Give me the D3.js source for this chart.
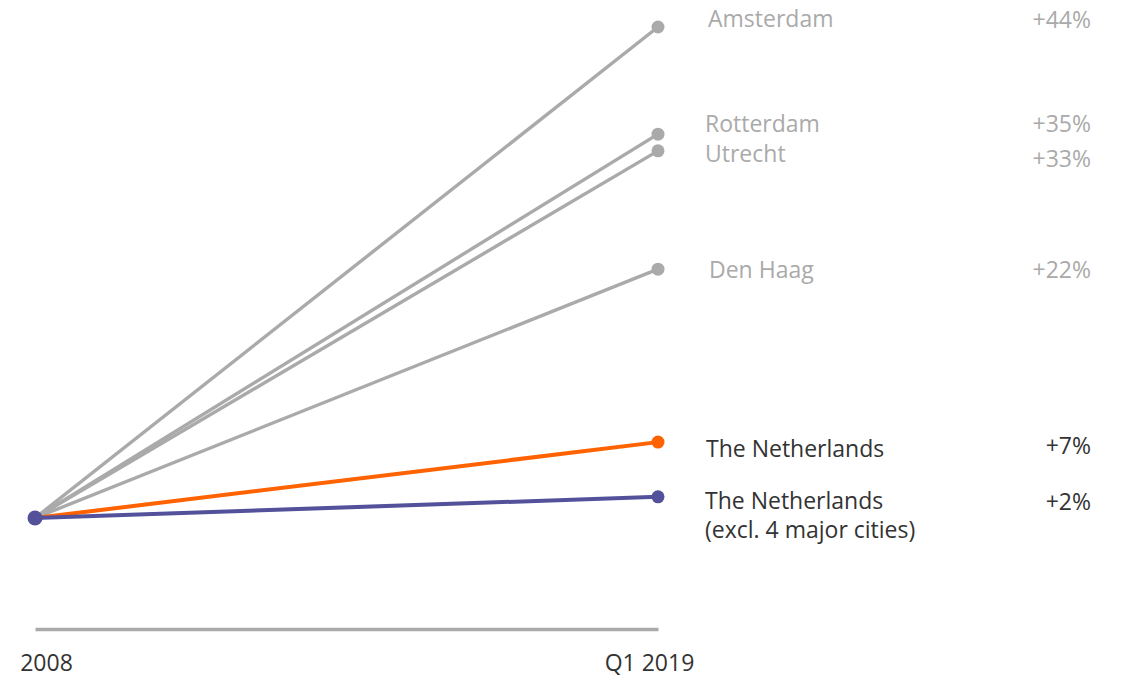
<!DOCTYPE html>
<html><head><meta charset="utf-8">
<script src="https://cdn.jsdelivr.net/npm/d3@7"></script>
<style>body{margin:0;background:#fff}svg{display:block}text{font-family:"Open Sans",sans-serif}</style>
</head><body><svg id="c" width="1122" height="677"></svg>
<script>
const periods = ["2008", "Q1 2019"];
const series = ["Amsterdam", "Rotterdam", "Utrecht", "Den Haag", "The Netherlands", "The Netherlands\n(excl. 4 major cities)"];
const startValues = [0, 0, 0, 0, 0, 0];
const endValues = [44, 34.4, 32.9, 22.3, 6.8, 1.9];
const changeLabels = ["+44%", "+35%", "+33%", "+22%", "+7%", "+2%"];

const colors = ["#aaaaaa", "#aaaaaa", "#aaaaaa", "#aaaaaa", "#ff6200", "#525199"];
const textColors = ["#aaaaaa", "#aaaaaa", "#aaaaaa", "#aaaaaa", "#333333", "#333333"];
const nameDy = [0, -2, 11, 9, 15, 12];
const nameDx = [50, 47, 47, 51, 48, 47];
const pctDy = [1, -2, 16, 9, 12, 13];

const svg = d3.select("#c");
const x = d3.scalePoint().domain(periods).range([35, 658]);
const y = d3.scaleLinear().domain([0, 44]).range([518, 27]);

// axis baseline
const ax = svg.append("g").attr("transform", "translate(0,629)").call(d3.axisBottom(x).tickSize(0).tickPadding(26));
ax.select(".domain").attr("stroke", "#aaaaaa").attr("stroke-width", 3.5);
ax.selectAll(".tick text").attr("font-size", 23).attr("fill", "#333").attr("font-family", "Open Sans, sans-serif")
  .attr("text-anchor", "middle")
  .attr("dx", (d,i)=> i===0 ? 11 : -9);

const data = series.map((s,i)=>({name:s, v:[startValues[i], endValues[i]], i}));
const line = d3.line().x((d,j)=>x(periods[j])).y(d=>y(d));

const g = svg.append("g");
data.forEach(d=>{
  g.append("path").attr("d", line(d.v)).attr("fill","none").attr("stroke",colors[d.i]).attr("stroke-width", d.i>=4?4:3.4);
});
data.forEach(d=>{
  g.append("circle").attr("cx", x(periods[1])).attr("cy", y(d.v[1])).attr("r", 6.5).attr("fill", colors[d.i]);
});
g.append("circle").attr("cx", x(periods[0])).attr("cy", y(0)).attr("r", 7.5).attr("fill", colors[5]);

data.forEach(d=>{
  const lines = d.name.split("\n");
  const t = svg.append("text").attr("x", x(periods[1]) + nameDx[d.i]).attr("y", y(d.v[1]) + nameDy[d.i])
    .attr("font-size", 23).attr("fill", textColors[d.i]);
  lines.forEach((l,k)=> t.append("tspan").attr("x", x(periods[1]) + nameDx[d.i]).attr("dy", k===0?0:29).text(l));
  svg.append("text").attr("x", 1091).attr("y", y(d.v[1]) + pctDy[d.i]).attr("text-anchor","end")
    .attr("font-size", 23).attr("fill", textColors[d.i]).text(changeLabels[d.i]);
});
</script></body></html>
